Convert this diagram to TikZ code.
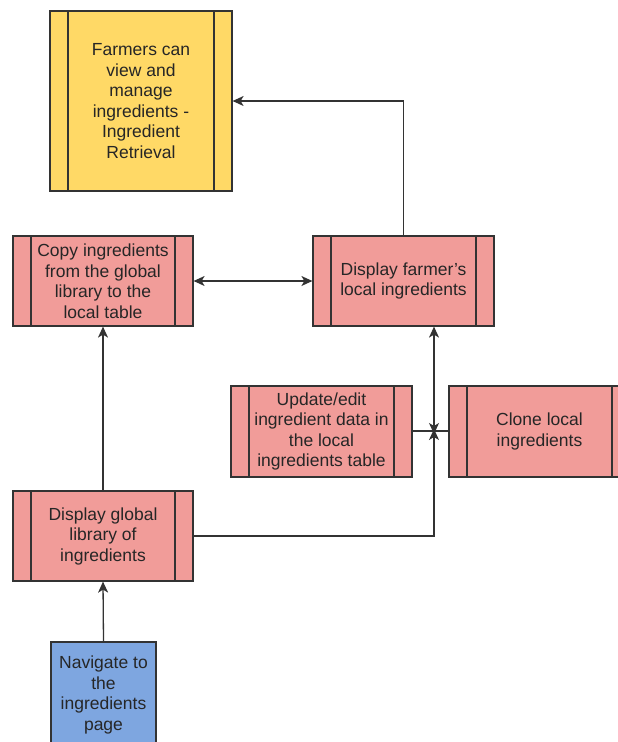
\documentclass[tikz,border=0pt]{standalone}
\usepackage{fontspec}
\setmainfont{Liberation Sans}
\usetikzlibrary{arrows.meta,calc}
\definecolor{yfill}{HTML}{FFD966}
\definecolor{rfill}{HTML}{F19C99}
\definecolor{bfill}{HTML}{7EA6E0}
\definecolor{edge}{HTML}{333333}
\definecolor{txt}{HTML}{262626}
\tikzset{
  proc/.style={draw=edge, line width=1.2pt, rectangle, align=center, text=txt,
    font=\fontsize{17.5}{20.5}\selectfont, inner sep=0pt,
    path picture={
      \draw[edge, line width=1.2pt] ([xshift=18pt]path picture bounding box.north west) -- ([xshift=18pt]path picture bounding box.south west);
      \draw[edge, line width=1.2pt] ([xshift=-18pt]path picture bounding box.north east) -- ([xshift=-18pt]path picture bounding box.south east);
    }},
  plainbox/.style={draw=edge, line width=1.2pt, rectangle, align=center, text=txt,
    font=\fontsize{17.5}{20.5}\selectfont, inner sep=0pt},
  conn/.style={draw=edge, line width=1.3pt},
  tip/.style={-{Stealth[length=11pt,width=10pt,inset=3pt]}},
  dtip/.style={{Stealth[length=11pt,width=10pt,inset=3pt]}-{Stealth[length=11pt,width=10pt,inset=3pt]}}
}
\begin{document}
\begin{tikzpicture}[x=1pt,y=-1pt]
\useasboundingbox (0,0) rectangle (618,742);
\node[proc, fill=yfill, minimum width=182pt, minimum height=180pt] (yellow) at (141,101)
  {Farmers can\\view and\\manage\\ingredients -\\Ingredient\\Retrieval};
\node[proc, fill=rfill, minimum width=180pt, minimum height=90pt] (copy) at (103,281)
  {Copy ingredients\\from the global\\library to the\\local table};
\node[proc, fill=rfill, minimum width=181pt, minimum height=90pt] (farmer) at (403.5,281)
  {Display farmer's\\local ingredients};
\node[proc, fill=rfill, minimum width=181pt, minimum height=91pt] (update) at (321.5,431.5)
  {Update/edit\\ingredient data in\\the local\\ingredients table};
\node[proc, fill=rfill, minimum width=181pt, minimum height=91pt] (clone) at (539.5,431.5)
  {Clone local\\ingredients};
\node[proc, fill=rfill, minimum width=180pt, minimum height=90pt] (global) at (103,536)
  {Display global\\library of\\ingredients};
\node[plainbox, fill=bfill, minimum width=105pt, minimum height=106pt] (nav) at (103.5,695)
  {Navigate to\\the\\ingredients\\page};
\coordinate (J) at (434,431);
\draw[conn] (update.east |- J) -- (clone.west |- J);
\draw[conn, dtip] (farmer.south -| J) -- ([yshift=-3pt]J);
\draw[conn, tip] (global.east) -| ([yshift=2pt]J);
\draw[conn, dtip] (copy.east) -- (farmer.west);
\draw[conn, tip] (farmer.north) |- (yellow.east);
\draw[conn, tip] (global.north) -- (copy.south);
\draw[conn, tip] (nav.north) -- (global.south);
\end{tikzpicture}
\end{document}
